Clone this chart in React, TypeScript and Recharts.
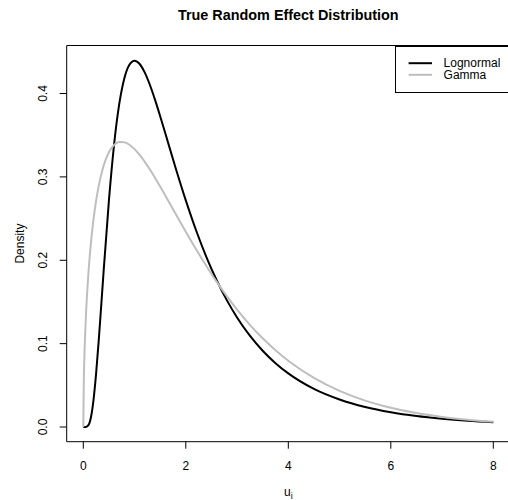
import React from "react";
import {
  LineChart,
  Line,
  XAxis,
  YAxis,
  ReferenceArea,
  Legend,
} from "recharts";

// values
const uValues = [
  0, 0.01, 0.02, 0.05, 0.1, 0.15, 0.2, 0.25, 0.3, 0.35, 0.4, 0.5, 0.6, 0.7,
  0.8, 0.9, 1.0, 1.1, 1.2, 1.3, 1.4, 1.5, 1.6, 1.8, 2.0, 2.2, 2.4, 2.6, 2.8,
  3.0, 3.25, 3.5, 3.75, 4.0, 4.5, 5.0, 5.5, 6.0, 6.5, 7.0, 7.5, 8.0,
];

const lognormalDensity = [
  0, 0, 0, 0.0001, 0.0022, 0.012, 0.033, 0.0643, 0.1031, 0.146, 0.1898,
  0.2718, 0.3385, 0.3869, 0.4181, 0.4345, 0.4394, 0.4354, 0.425, 0.4102,
  0.3924, 0.3728, 0.3523, 0.311, 0.2718, 0.236, 0.2042, 0.1763, 0.1522,
  0.1314, 0.1095, 0.0915, 0.0766, 0.0643, 0.0457, 0.033, 0.024, 0.0177,
  0.0132, 0.01, 0.0076, 0.0058,
];

const gammaDensity = [
  0, 0.0566, 0.0817, 0.1314, 0.1844, 0.2215, 0.2496, 0.2716, 0.289, 0.303,
  0.3141, 0.3295, 0.3382, 0.3418, 0.3416, 0.3386, 0.3333, 0.3263, 0.318,
  0.3088, 0.2988, 0.2885, 0.2777, 0.2559, 0.2342, 0.2132, 0.1932, 0.1744,
  0.1569, 0.1408, 0.1226, 0.1064, 0.0921, 0.0795, 0.0589, 0.0433, 0.0317,
  0.0231, 0.0167, 0.0121, 0.0087, 0.0063,
];

const xTicks = [0, 2, 4, 6, 8];
const yTicks = [0, 0.1, 0.2, 0.3, 0.4];

const seriesNames = ["Lognormal", "Gamma"];
const seriesColors = ["#000000", "#bebebe"];

const FONT = "'Liberation Sans', Arial, Helvetica, sans-serif";

const chartData = uValues.map((u, i) => ({
  u,
  lognormal: lognormalDensity[i],
  gamma: gammaDensity[i],
}));

const XTick = (props: any) => {
  const { x, y, payload } = props;
  return (
    <text
      x={x}
      y={y + 21.5}
      textAnchor="middle"
      fontFamily={FONT}
      fontSize={12}
      fill="#000"
    >
      {payload.value}
    </text>
  );
};

const YTick = (props: any) => {
  const { y, payload } = props;
  const tx = 47.3;
  return (
    <text
      x={tx}
      y={y}
      transform={`rotate(-90, ${tx}, ${y})`}
      textAnchor="middle"
      fontFamily={FONT}
      fontSize={12}
      fill="#000"
    >
      {Number(payload.value).toFixed(1)}
    </text>
  );
};

const LegendBox = () => (
  <svg width={116} height={47} style={{ display: "block" }}>
    <rect x={0.5} y={0.5} width={115} height={46} fill="#fff" stroke="#000" />
    {seriesNames.map((name, i) => (
      <g key={name}>
        <line
          x1={13.6}
          x2={37}
          y1={17.2 + i * 11.6}
          y2={17.2 + i * 11.6}
          stroke={seriesColors[i]}
          strokeWidth={2}
        />
        <text
          x={48.6}
          y={21.4 + i * 11.6}
          fontFamily={FONT}
          fontSize={12}
          fill="#000"
        >
          {name}
        </text>
      </g>
    ))}
  </svg>
);

export default function App() {
  return (
    <div
      style={{
        position: "absolute",
        left: 0,
        top: 0,
        width: 508,
        height: 500,
        overflow: "hidden",
        background: "#fff",
      }}
    >
      <LineChart
        width={512}
        height={500}
        data={chartData}
        margin={{ top: 45.5, right: 2.1, bottom: 28.3, left: 26.7 }}
      >
        <text
          x={288.3}
          y={19.6}
          textAnchor="middle"
          fontFamily={FONT}
          fontSize={14.4}
          fontWeight="bold"
          fill="#000"
        >
          True Random Effect Distribution
        </text>
        <text
          x={288.3}
          y={496}
          textAnchor="middle"
          fontFamily={FONT}
          fontSize={12}
          fill="#000"
        >
          u
          <tspan fontSize={9} dy={3}>
            i
          </tspan>
        </text>
        <text
          x={24}
          y={243.6}
          transform="rotate(-90, 24, 243.6)"
          textAnchor="middle"
          fontFamily={FONT}
          fontSize={12}
          fill="#000"
        >
          Density
        </text>
        <XAxis
          dataKey="u"
          type="number"
          domain={[-0.324, 8.324]}
          ticks={xTicks}
          height={30}
          axisLine={false}
          tickSize={7}
          tickMargin={0}
          tickLine={{ stroke: "#000" }}
          tick={XTick}
          interval={0}
          allowDataOverflow
        />
        <YAxis
          type="number"
          domain={[-0.0176, 0.4576]}
          ticks={yTicks}
          width={40}
          axisLine={false}
          tickSize={7}
          tickMargin={0}
          tickLine={{ stroke: "#000" }}
          tick={YTick}
          interval={0}
          allowDataOverflow
        />
        <ReferenceArea
          x1={-0.324}
          x2={8.324}
          y1={-0.0176}
          y2={0.4576}
          fill="none"
          stroke="#000"
          strokeWidth={1}
          ifOverflow="visible"
        />
        <Line
          type="monotone"
          dataKey="lognormal"
          name={seriesNames[0]}
          stroke={seriesColors[0]}
          strokeWidth={2}
          dot={false}
          isAnimationActive={false}
        />
        <Line
          type="monotone"
          dataKey="gamma"
          name={seriesNames[1]}
          stroke={seriesColors[1]}
          strokeWidth={2}
          dot={false}
          isAnimationActive={false}
        />
        <Legend
          layout="vertical"
          align="center"
          verticalAlign="middle"
          content={LegendBox}
          wrapperStyle={{ left: 394.7, top: 45.5, width: 116, height: 47 }}
        />
      </LineChart>
    </div>
  );
}
